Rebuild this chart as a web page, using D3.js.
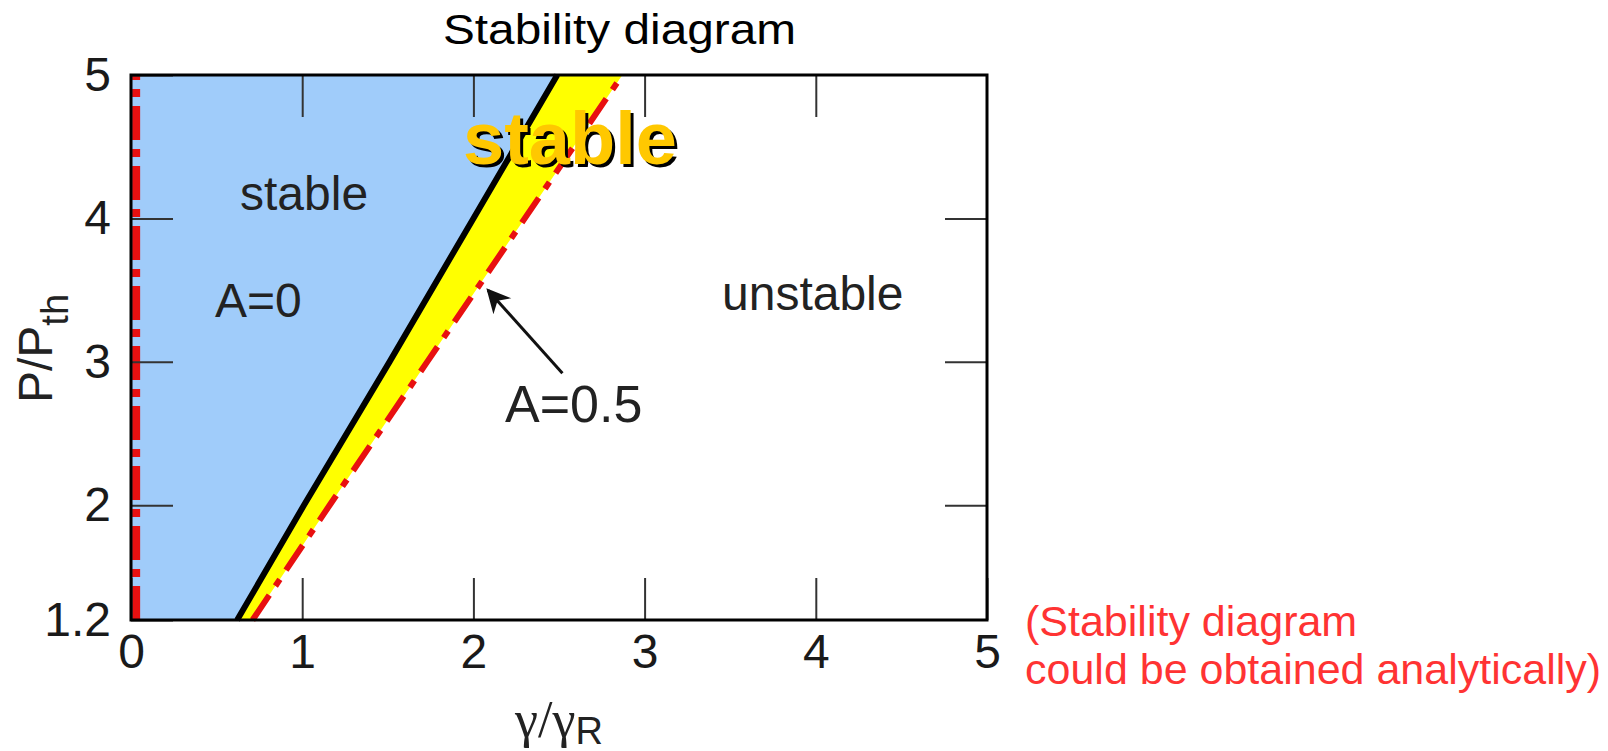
<!DOCTYPE html>
<html>
<head>
	<title>Stability diagram</title>
	<style>
	body {
	  margin: 0;
	  background: #fff;
	  font-family: "Liberation Sans", Arial, sans-serif;
	}
	.tick text {
	  font-size: 48px;
	  fill: #1a1a1a;
	}
	.tick line {
	  stroke: #333;
	  stroke-width: 2px;
	}
	.domain {
	  display: none;
	}
	.lbl {
	  font-size: 48px;
	  fill: #222;
	}
	</style>
	<script src="https://d3js.org/d3.v7.min.js"></script>
</head>
<body>
	<script>
		// values
		var xTicks = [0, 1, 2, 3, 4, 5];
		var yTicks = [1.2, 2, 3, 4, 5];
		var yTickLabels = ["1.2", "2", "3", "4", "5"];
		var pValues = [1.2, 2, 3, 4, 5];            // P/Pth
		var gammaA0 = [0.62, 1.01, 1.51, 2.0, 2.49];  // boundary A=0
		var gammaA05 = [0.71, 1.16, 1.73, 2.30, 2.87]; // boundary A=0.5
		var gammaA05Left = [0.03, 0.03];           // left edge of A=0.5 region
		var pLeft = [1.2, 5];
		var arrowFrom = {g: 2.52, p: 2.92};
		var arrowTo = {g: 2.085, p: 3.5};

		var W = 1608, H = 751;
		var frame = {left: 131, right: 987, top: 75, bottom: 620};

		var svg = d3.select("body").append("svg")
		    .attr("width", W)
		    .attr("height", H);

		var x = d3.scaleLinear().domain([0, 5]).range([frame.left, frame.right]);
		var y = d3.scaleLinear().domain([1.2, 5]).range([frame.bottom, frame.top]);

		var rows = pValues.map(function(p, i) {
			return {p: p, a0: gammaA0[i], a05: gammaA05[i]};
		});

		// stable region for A=0
		svg.append("path")
		    .datum(rows)
		    .attr("fill", "#a0ccfa")
		    .attr("d", d3.area()
		        .y(function(d) { return y(d.p); })
		        .x0(x(0))
		        .x1(function(d) { return x(d.a0); }));

		// extra stable band for A=0.5
		svg.append("path")
		    .datum(rows)
		    .attr("fill", "#ffff00")
		    .attr("d", d3.area()
		        .y(function(d) { return y(d.p); })
		        .x0(function(d) { return x(d.a0); })
		        .x1(function(d) { return x(d.a05); }));

		var line = d3.line()
		    .x(function(d) { return x(d.g); })
		    .y(function(d) { return y(d.p); });

		svg.append("path")
		    .datum(pLeft.map(function(p, i) { return {p: p, g: gammaA05Left[i]}; }))
		    .attr("fill", "none")
		    .attr("stroke", "#e81010")
		    .attr("stroke-width", 8)
		    .attr("stroke-dasharray", "34,9,8,9")
		    .attr("d", line);

		svg.append("path")
		    .datum(rows.map(function(d) { return {p: d.p, g: d.a05}; }))
		    .attr("fill", "none")
		    .attr("stroke", "#e81010")
		    .attr("stroke-width", 6)
		    .attr("stroke-dasharray", "30,11,8,11")
		    .attr("d", line);

		svg.append("path")
		    .datum(rows.map(function(d) { return {p: d.p, g: d.a0}; }))
		    .attr("fill", "none")
		    .attr("stroke", "#000")
		    .attr("stroke-width", 6)
		    .attr("d", line);

		// axes, ticks pointing inwards
		var tk = 42;
		svg.append("g")
		    .attr("transform", "translate(0," + frame.bottom + ")")
		    .call(d3.axisBottom(x).tickValues(xTicks).tickSize(-tk).tickPadding(14).tickFormat(d3.format("d")));
		svg.append("g")
		    .attr("transform", "translate(0," + frame.top + ")")
		    .call(d3.axisTop(x).tickValues(xTicks.slice(1, -1)).tickSize(-tk).tickFormat(""));
		svg.append("g")
		    .attr("transform", "translate(" + frame.left + ",0)")
		    .call(d3.axisLeft(y).tickValues(yTicks).tickSize(-tk).tickPadding(20)
		        .tickFormat(function(d, i) { return yTickLabels[i]; }));
		svg.append("g")
		    .attr("transform", "translate(" + frame.right + ",0)")
		    .call(d3.axisRight(y).tickValues(yTicks.slice(1, -1)).tickSize(-tk).tickFormat(""));

		svg.selectAll(".tick text").attr("font-family", "Liberation Sans, Arial, sans-serif");

		svg.append("rect")
		    .attr("x", frame.left)
		    .attr("y", frame.top)
		    .attr("width", frame.right - frame.left)
		    .attr("height", frame.bottom - frame.top)
		    .attr("fill", "none")
		    .attr("stroke", "#000")
		    .attr("stroke-width", 3);

		// arrow pointing to the A=0.5 line
		svg.append("defs").append("marker")
		    .attr("id", "head")
		    .attr("viewBox", "0 0 10 10")
		    .attr("refX", 9).attr("refY", 5)
		    .attr("markerWidth", 9).attr("markerHeight", 8)
		    .attr("orient", "auto")
		    .append("path")
		    .attr("d", "M0,0L10,5L0,10L3,5Z")
		    .attr("fill", "#111");
		svg.append("line")
		    .attr("x1", x(arrowFrom.g)).attr("y1", y(arrowFrom.p))
		    .attr("x2", x(arrowTo.g)).attr("y2", y(arrowTo.p))
		    .attr("stroke", "#111")
		    .attr("stroke-width", 3)
		    .attr("marker-end", "url(#head)");

		// labels inside the plot
		svg.append("text").attr("class", "lbl").attr("x", 240).attr("y", 210).text("stable");
		svg.append("text").attr("class", "lbl").attr("x", 215).attr("y", 317).text("A=0");
		svg.append("text").attr("class", "lbl").attr("x", 722).attr("y", 310).text("unstable");
		svg.append("text").attr("class", "lbl").attr("x", 505).attr("y", 422)
		    .style("font-size", "52px").text("A=0.5");

		// big highlighted "stable"
		svg.append("text")
		    .attr("x", 466).attr("y", 167)
		    .attr("font-size", 74).attr("font-weight", "bold")
		    .attr("fill", "#000")
		    .text("stable");
		svg.append("text")
		    .attr("x", 463).attr("y", 164)
		    .attr("font-size", 74).attr("font-weight", "bold")
		    .attr("fill", "#ffc800")
		    .text("stable");

		// axis titles
		var xt = svg.append("text")
		    .attr("x", 515).attr("y", 737)
		    .attr("fill", "#222");
		xt.append("tspan").attr("font-family", "Liberation Serif, serif").attr("font-size", 52).text("γ/γ");
		xt.append("tspan").attr("font-size", 38).attr("dy", 7).text("R");

		var yt = svg.append("text")
		    .attr("transform", "translate(52,403) rotate(-90)")
		    .attr("fill", "#222");
		yt.append("tspan").attr("font-size", 48).text("P/P");
		yt.append("tspan").attr("font-size", 38).attr("dy", 16).text("th");

		// title
		svg.append("text")
		    .attr("x", 443).attr("y", 44)
		    .attr("font-size", 43)
		    .attr("textLength", 353)
		    .attr("lengthAdjust", "spacingAndGlyphs")
		    .attr("fill", "#000")
		    .text("Stability diagram");

		// note
		var note = svg.append("text")
		    .attr("x", 1025).attr("y", 636)
		    .attr("font-size", 43)
		    .attr("fill", "#ff3333");
		note.append("tspan").attr("x", 1025).text("(Stability diagram");
		note.append("tspan").attr("x", 1025).attr("dy", 48).text("could be obtained analytically)");
	</script>
</body>
</html>
